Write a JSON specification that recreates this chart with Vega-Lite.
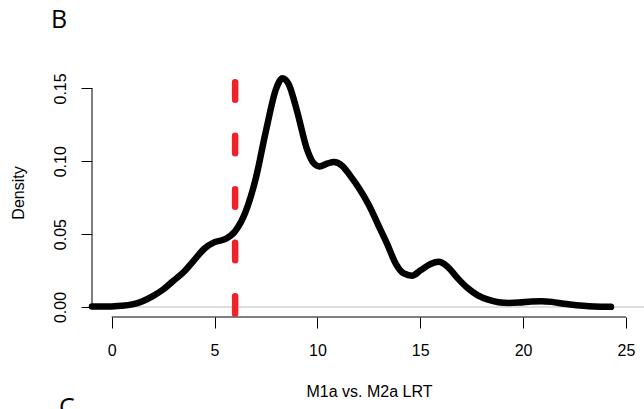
{
  "$schema": "https://vega.github.io/schema/vega-lite/v6.json",
  "width": 552,
  "height": 249,
  "autosize": "none",
  "padding": {"left": 92, "top": 68, "right": 0, "bottom": 92},
  "background": "white",
  "title": {"text": "B", "anchor": "start", "frame": "group", "orient": "top", "offset": 35, "dx": -41, "dy": 28, "fontSize": 25, "font": "Open Sans", "fontWeight": "normal", "baseline": "bottom", "color": "black"},
  "config": {
    "view": {"stroke": null}
  },
  "datasets": {
    "curve": [
      {"x": -0.958, "y": 0.0003}, {"x": -0.5, "y": 0.0003}, {"x": 0, "y": 0.0004}, {"x": 0.5, "y": 0.0008},
      {"x": 1.0, "y": 0.0018}, {"x": 1.5, "y": 0.004}, {"x": 2.0, "y": 0.0075}, {"x": 2.5, "y": 0.012},
      {"x": 3.0, "y": 0.018}, {"x": 3.5, "y": 0.024}, {"x": 4.0, "y": 0.032}, {"x": 4.5, "y": 0.04},
      {"x": 5.0, "y": 0.0445}, {"x": 5.5, "y": 0.0465}, {"x": 6.0, "y": 0.052}, {"x": 6.5, "y": 0.065},
      {"x": 7.0, "y": 0.088}, {"x": 7.5, "y": 0.121}, {"x": 8.0, "y": 0.15}, {"x": 8.3, "y": 0.157},
      {"x": 8.6, "y": 0.153}, {"x": 9.0, "y": 0.135}, {"x": 9.5, "y": 0.108}, {"x": 9.8, "y": 0.099},
      {"x": 10.1, "y": 0.0965}, {"x": 10.5, "y": 0.0985}, {"x": 10.8, "y": 0.0995}, {"x": 11.2, "y": 0.097},
      {"x": 11.6, "y": 0.09}, {"x": 12.0, "y": 0.082}, {"x": 12.5, "y": 0.07}, {"x": 13.0, "y": 0.055},
      {"x": 13.4, "y": 0.043}, {"x": 13.8, "y": 0.03}, {"x": 14.2, "y": 0.023}, {"x": 14.6, "y": 0.0215},
      {"x": 15.0, "y": 0.025}, {"x": 15.5, "y": 0.0295}, {"x": 15.9, "y": 0.031}, {"x": 16.3, "y": 0.028},
      {"x": 16.8, "y": 0.02}, {"x": 17.3, "y": 0.013}, {"x": 17.8, "y": 0.008}, {"x": 18.3, "y": 0.005},
      {"x": 18.8, "y": 0.0033}, {"x": 19.3, "y": 0.0028}, {"x": 19.8, "y": 0.003}, {"x": 20.4, "y": 0.0038},
      {"x": 20.9, "y": 0.004}, {"x": 21.4, "y": 0.0035}, {"x": 22.0, "y": 0.0022}, {"x": 22.6, "y": 0.0012},
      {"x": 23.2, "y": 0.0005}, {"x": 23.8, "y": 0.0002}, {"x": 24.27, "y": 0.0001}
    ],
    "xaxis": [{"x": 0, "x2": 25, "y": -0.00687}],
    "yaxis": [{"x": -0.958, "y": 0, "y2": 0.15}],
    "zero": [{"x": 0, "y": 0}],
    "cut": [{"x": 6, "y": -0.00687, "y2": 0.16403}],
    "panel": [{"x": -2.56, "y": -0.075, "label": "C"}]
  },
  "layer": [
    {
      "data": {"name": "zero"},
      "mark": {"type": "rule", "color": "#BEBEBE", "strokeWidth": 1},
      "encoding": {
        "y": {"field": "y", "type": "quantitative", "scale": {"domain": [-0.00687, 0.16403], "nice": false, "zero": false},
          "axis": {"values": [0, 0.05, 0.1, 0.15], "format": ".2f", "title": "Density", "domain": false, "grid": false, "ticks": true, "tickColor": "black", "tickWidth": 1, "tickSize": 11, "labelFont": "Liberation Sans", "labelFontSize": 16, "labelColor": "black", "labelOverlap": false, "labelFlush": false, "labelBound": false, "labelAngle": -90, "labelAlign": "center", "labelBaseline": "alphabetic", "labelPadding": 16, "titleFont": "Liberation Sans", "titleFontSize": 16, "titleFontWeight": "normal", "titleColor": "black", "titleAngle": -90, "titleX": -69, "titleY": 124.5, "titleAlign": "center", "titleBaseline": "alphabetic"}}
      }
    },
    {
      "data": {"name": "xaxis"},
      "mark": {"type": "rule", "color": "black", "strokeWidth": 1},
      "encoding": {
        "x": {"field": "x", "type": "quantitative", "scale": {"domain": [-0.958, 25.877], "nice": false, "zero": false},
          "axis": {"values": [0, 5, 10, 15, 20, 25], "title": "M1a vs. M2a LRT", "domain": false, "grid": false, "ticks": true, "tickColor": "black", "tickWidth": 1, "tickSize": 11, "labelFont": "Liberation Sans", "labelFontSize": 16, "labelColor": "black", "labelOverlap": false, "labelFlush": false, "labelBound": false, "labelAngle": 0, "labelAlign": "center", "labelBaseline": "top", "labelPadding": 14.5, "titleFont": "Liberation Sans", "titleFontSize": 16, "titleFontWeight": "normal", "titleColor": "black", "titleX": 277, "titleY": 79.7, "titleAlign": "center", "titleBaseline": "alphabetic"}},
        "x2": {"field": "x2"},
        "y": {"field": "y", "type": "quantitative"}
      }
    },
    {
      "data": {"name": "yaxis"},
      "mark": {"type": "rule", "color": "black", "strokeWidth": 1},
      "encoding": {
        "x": {"field": "x", "type": "quantitative"},
        "y": {"field": "y", "type": "quantitative"},
        "y2": {"field": "y2"}
      }
    },
    {
      "data": {"name": "curve"},
      "mark": {"type": "line", "color": "black", "strokeWidth": 6.5, "strokeCap": "round", "strokeJoin": "round", "interpolate": "monotone"},
      "encoding": {
        "x": {"field": "x", "type": "quantitative"},
        "y": {"field": "y", "type": "quantitative"}
      }
    },
    {
      "data": {"name": "cut"},
      "mark": {"type": "rule", "color": "#EE2229", "strokeWidth": 6.5, "strokeCap": "round", "strokeDash": [17.5, 36], "strokeDashOffset": 50.25},
      "encoding": {
        "x": {"field": "x", "type": "quantitative"},
        "y": {"field": "y", "type": "quantitative"},
        "y2": {"field": "y2"}
      }
    },
    {
      "data": {"name": "panel"},
      "mark": {"type": "text", "align": "left", "baseline": "alphabetic", "font": "Open Sans", "fontSize": 25, "color": "black"},
      "encoding": {
        "x": {"field": "x", "type": "quantitative"},
        "y": {"field": "y", "type": "quantitative"},
        "text": {"field": "label"}
      }
    }
  ]
}
